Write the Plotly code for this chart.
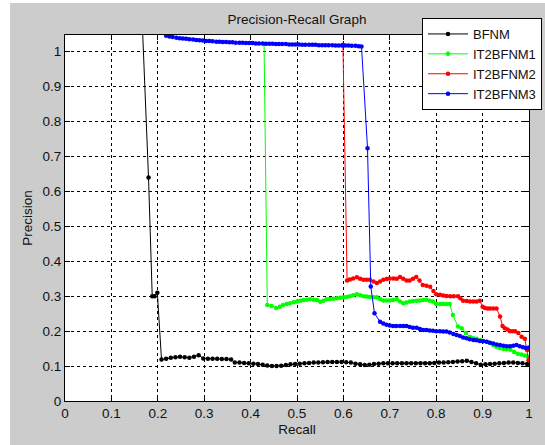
import plotly.graph_objects as go

# ---------------- data ----------------
bfnm_recall = [
    0.166, 0.180, 0.188, 0.193, 0.199, 0.208, 0.218, 0.228, 0.238, 0.248,
    0.258, 0.268, 0.278, 0.288, 0.298, 0.308, 0.318, 0.328, 0.338, 0.348,
    0.358, 0.366, 0.376, 0.386, 0.396, 0.406, 0.416, 0.426, 0.436, 0.446,
    0.456, 0.466, 0.476, 0.486, 0.496, 0.506, 0.516, 0.526, 0.536, 0.546,
    0.556, 0.566, 0.576, 0.586, 0.596, 0.606, 0.616, 0.626, 0.636, 0.646,
    0.656, 0.666, 0.676, 0.686, 0.696, 0.706, 0.716, 0.726, 0.736, 0.746,
    0.756, 0.766, 0.776, 0.786, 0.796, 0.806, 0.816, 0.826, 0.836, 0.846,
    0.856, 0.866, 0.876, 0.886, 0.896, 0.906, 0.916, 0.926, 0.936, 0.946,
    0.956, 0.966, 0.976, 0.986, 0.996]
bfnm_precision = [
    1.10, 0.64, 0.30, 0.30, 0.31, 0.119, 0.121, 0.124, 0.125, 0.127,
    0.125, 0.124, 0.127, 0.131, 0.122, 0.121, 0.121, 0.121, 0.120, 0.120,
    0.119, 0.110, 0.110, 0.109, 0.108, 0.107, 0.106, 0.104, 0.102, 0.100,
    0.100, 0.101, 0.103, 0.105, 0.106, 0.107, 0.108, 0.109, 0.110, 0.110,
    0.111, 0.112, 0.112, 0.112, 0.112, 0.111, 0.110, 0.107, 0.105, 0.103,
    0.104, 0.106, 0.107, 0.108, 0.108, 0.108, 0.108, 0.108, 0.108, 0.108,
    0.108, 0.108, 0.108, 0.108, 0.109, 0.110, 0.110, 0.111, 0.112, 0.113,
    0.114, 0.115, 0.112, 0.108, 0.104, 0.105, 0.106, 0.107, 0.108, 0.109,
    0.110, 0.110, 0.109, 0.108, 0.106]

it1_recall = [
    0.429, 0.436, 0.445, 0.455, 0.463, 0.470, 0.478, 0.485, 0.493, 0.500,
    0.507, 0.514, 0.521, 0.528, 0.536, 0.543, 0.550, 0.557, 0.564, 0.571,
    0.579, 0.586, 0.593, 0.600, 0.607, 0.614, 0.621, 0.629, 0.636, 0.643,
    0.650, 0.657, 0.665, 0.672, 0.679, 0.686, 0.693, 0.700, 0.707, 0.715,
    0.722, 0.729, 0.736, 0.743, 0.750, 0.758, 0.765, 0.772, 0.779, 0.786,
    0.793, 0.800, 0.808, 0.815, 0.822, 0.829, 0.836, 0.847, 0.855, 0.864,
    0.873, 0.880, 0.887, 0.895, 0.902, 0.909, 0.916, 0.923, 0.930, 0.937,
    0.945, 0.952, 0.960, 0.968, 0.976, 0.984, 0.991, 0.998]
it1_precision = [
    1.022, 0.275, 0.272, 0.266, 0.270, 0.275, 0.278, 0.280, 0.283, 0.285,
    0.287, 0.289, 0.290, 0.291, 0.290, 0.289, 0.284, 0.287, 0.291, 0.292,
    0.293, 0.294, 0.296, 0.297, 0.298, 0.300, 0.303, 0.306, 0.303, 0.300,
    0.299, 0.298, 0.297, 0.297, 0.292, 0.288, 0.288, 0.288, 0.289, 0.291,
    0.285, 0.280, 0.282, 0.285, 0.286, 0.287, 0.288, 0.289, 0.290, 0.287,
    0.285, 0.278, 0.278, 0.278, 0.278, 0.278, 0.246, 0.213, 0.208, 0.195,
    0.183, 0.180, 0.178, 0.175, 0.172, 0.170, 0.166, 0.160, 0.155, 0.152,
    0.149, 0.148, 0.147, 0.140, 0.135, 0.133, 0.130, 0.127]

it2_recall = [
    0.599, 0.608, 0.614, 0.621, 0.629, 0.636, 0.643, 0.650, 0.657, 0.665,
    0.672, 0.679, 0.686, 0.693, 0.700, 0.708, 0.715, 0.722, 0.729, 0.736,
    0.743, 0.750, 0.757, 0.764, 0.771, 0.779, 0.787, 0.794, 0.800, 0.808,
    0.815, 0.822, 0.830, 0.838, 0.847, 0.852, 0.858, 0.866, 0.873, 0.880,
    0.887, 0.894, 0.900, 0.905, 0.911, 0.916, 0.923, 0.930, 0.9375, 0.943,
    0.948, 0.954, 0.959, 0.965, 0.970, 0.977, 0.984, 0.991, 0.996, 0.999]
it2_precision = [
    1.020, 0.345, 0.348, 0.351, 0.354, 0.350, 0.347, 0.347, 0.347, 0.342,
    0.338, 0.342, 0.347, 0.349, 0.351, 0.351, 0.350, 0.355, 0.350, 0.345,
    0.345, 0.350, 0.355, 0.345, 0.332, 0.330, 0.327, 0.315, 0.306, 0.304,
    0.302, 0.301, 0.300, 0.300, 0.300, 0.294, 0.287, 0.286, 0.285, 0.285,
    0.285, 0.287, 0.270, 0.266, 0.265, 0.265, 0.265, 0.265, 0.242, 0.215,
    0.208, 0.205, 0.200, 0.200, 0.200, 0.195, 0.184, 0.178, 0.146, 0.117]

it3_recall = [
    0.218, 0.225, 0.232, 0.240, 0.247, 0.254, 0.261, 0.268, 0.276, 0.283,
    0.290, 0.297, 0.304, 0.311, 0.318, 0.326, 0.333, 0.340, 0.347, 0.354,
    0.361, 0.368, 0.376, 0.383, 0.390, 0.397, 0.404, 0.411, 0.418, 0.426,
    0.433, 0.440, 0.447, 0.454, 0.461, 0.468, 0.476, 0.483, 0.490, 0.497,
    0.504, 0.511, 0.518, 0.526, 0.533, 0.540, 0.547, 0.554, 0.561, 0.568,
    0.576, 0.583, 0.590, 0.597, 0.604, 0.611, 0.618, 0.626, 0.633, 0.639,
    0.652, 0.659, 0.667, 0.679, 0.686, 0.693, 0.700, 0.707, 0.714, 0.722,
    0.729, 0.736, 0.743, 0.750, 0.758, 0.765, 0.772, 0.779, 0.786, 0.793,
    0.800, 0.808, 0.815, 0.822, 0.829, 0.837, 0.844, 0.851, 0.858, 0.865,
    0.872, 0.880, 0.887, 0.894, 0.901, 0.909, 0.916, 0.923, 0.930, 0.9375,
    0.945, 0.952, 0.959, 0.966, 0.973, 0.980, 0.987, 0.993, 1.000]
it3_precision = [
    1.046, 1.044, 1.042, 1.040, 1.039, 1.038, 1.037, 1.036, 1.035, 1.034,
    1.033, 1.032, 1.031, 1.031, 1.030, 1.029, 1.029, 1.028, 1.028, 1.027,
    1.027, 1.026, 1.026, 1.026, 1.025, 1.025, 1.025, 1.024, 1.024, 1.024,
    1.023, 1.023, 1.023, 1.022, 1.022, 1.022, 1.022, 1.021, 1.021, 1.021,
    1.021, 1.020, 1.020, 1.020, 1.020, 1.020, 1.019, 1.019, 1.019, 1.019,
    1.019, 1.018, 1.018, 1.018, 1.018, 1.018, 1.017, 1.017, 1.016, 1.015,
    0.724, 0.328, 0.251, 0.227, 0.222, 0.218, 0.216, 0.215, 0.215, 0.215,
    0.215, 0.215, 0.212, 0.210, 0.210, 0.206, 0.203, 0.203, 0.202, 0.201,
    0.200, 0.200, 0.199, 0.199, 0.196, 0.192, 0.189, 0.186, 0.182, 0.180,
    0.177, 0.175, 0.174, 0.172, 0.171, 0.170, 0.167, 0.165, 0.162, 0.160,
    0.158, 0.157, 0.157, 0.158, 0.160, 0.157, 0.154, 0.152, 0.153]

series_names = ["BFNM", "IT2BFNM1", "IT2BFNM2", "IT2BFNM3"]
series_colors = ["#000000", "#00ff00", "#ff0000", "#0000ff"]

tick_vals = [0, 0.1, 0.2, 0.3, 0.4, 0.5, 0.6, 0.7, 0.8, 0.9, 1]
tick_text = ["0", "0.1", "0.2", "0.3", "0.4", "0.5", "0.6", "0.7", "0.8", "0.9", "1"]

# ---------------- figure ----------------
fig = go.Figure()
data = [(bfnm_recall, bfnm_precision), (it1_recall, it1_precision),
        (it2_recall, it2_precision), (it3_recall, it3_precision)]
for (xs, ys), name, col in zip(data, series_names, series_colors):
    fig.add_trace(go.Scatter(
        x=xs, y=ys, name=name, mode="lines+markers",
        line=dict(color=col, width=1),
        marker=dict(color=col, size=4.5, symbol="circle"),
    ))

FONT = "Liberation Sans, Arial, sans-serif"
TXT = "#111111"
L, R, T, B = 65, 16, 35, 44
W, H = 545, 445
pw = W - L - R
ph = H - T - B

def px_x(p):
    return (p - L) / pw

def px_y(p):
    return (H - B - p) / ph

axis_common = dict(
    showline=True, linecolor="black", linewidth=1, mirror="ticks",
    ticks="inside", ticklen=5, tickcolor="black", tickwidth=1,
    showgrid=True, gridcolor="black", gridwidth=1, griddash="3px,3px",
    zeroline=False, tickvals=tick_vals, ticktext=tick_text,
    tickfont=dict(family=FONT, size=13.5, color=TXT),
)

fig.update_layout(
    width=W, height=H,
    margin=dict(l=L, r=R, t=T, b=B, autoexpand=False),
    paper_bgcolor="#cccccc", plot_bgcolor="white",
    font=dict(family=FONT, size=13.5, color=TXT),
    title=dict(text="Precision-Recall Graph", x=0.5, xref="paper",
               y=1 - 19 / H, yref="container", yanchor="middle",
               xanchor="center", font=dict(family=FONT, size=13.5, color=TXT)),
    xaxis=dict(range=[0, 1], title=dict(text="Recall", standoff=4,
               font=dict(family=FONT, size=13.5, color=TXT)), **axis_common),
    yaxis=dict(range=[0, 1.048], title=dict(text="Precision", standoff=6,
               font=dict(family=FONT, size=13.5, color=TXT)), **axis_common),
    legend=dict(x=px_x(422), y=px_y(18), xanchor="left", yanchor="top",
                bgcolor="white", bordercolor="black", borderwidth=1,
                font=dict(family=FONT, size=13, color=TXT),
                itemwidth=40, tracegroupgap=0),
    showlegend=True,
    shapes=[
        dict(type="rect", xref="paper", yref="paper", layer="below",
             x0=px_x(-5), x1=px_x(10), y0=px_y(450), y1=px_y(-5),
             fillcolor="white", line=dict(width=0)),
        dict(type="rect", xref="paper", yref="paper", layer="below",
             x0=px_x(-5), x1=px_x(550), y0=px_y(3), y1=px_y(-5),
             fillcolor="white", line=dict(width=0)),
    ],
)

fig.write_html("out.html",
               config={"displayModeBar": False},
               post_script="document.body.style.margin='0px';"
                           "document.body.style.overflow='hidden';")
